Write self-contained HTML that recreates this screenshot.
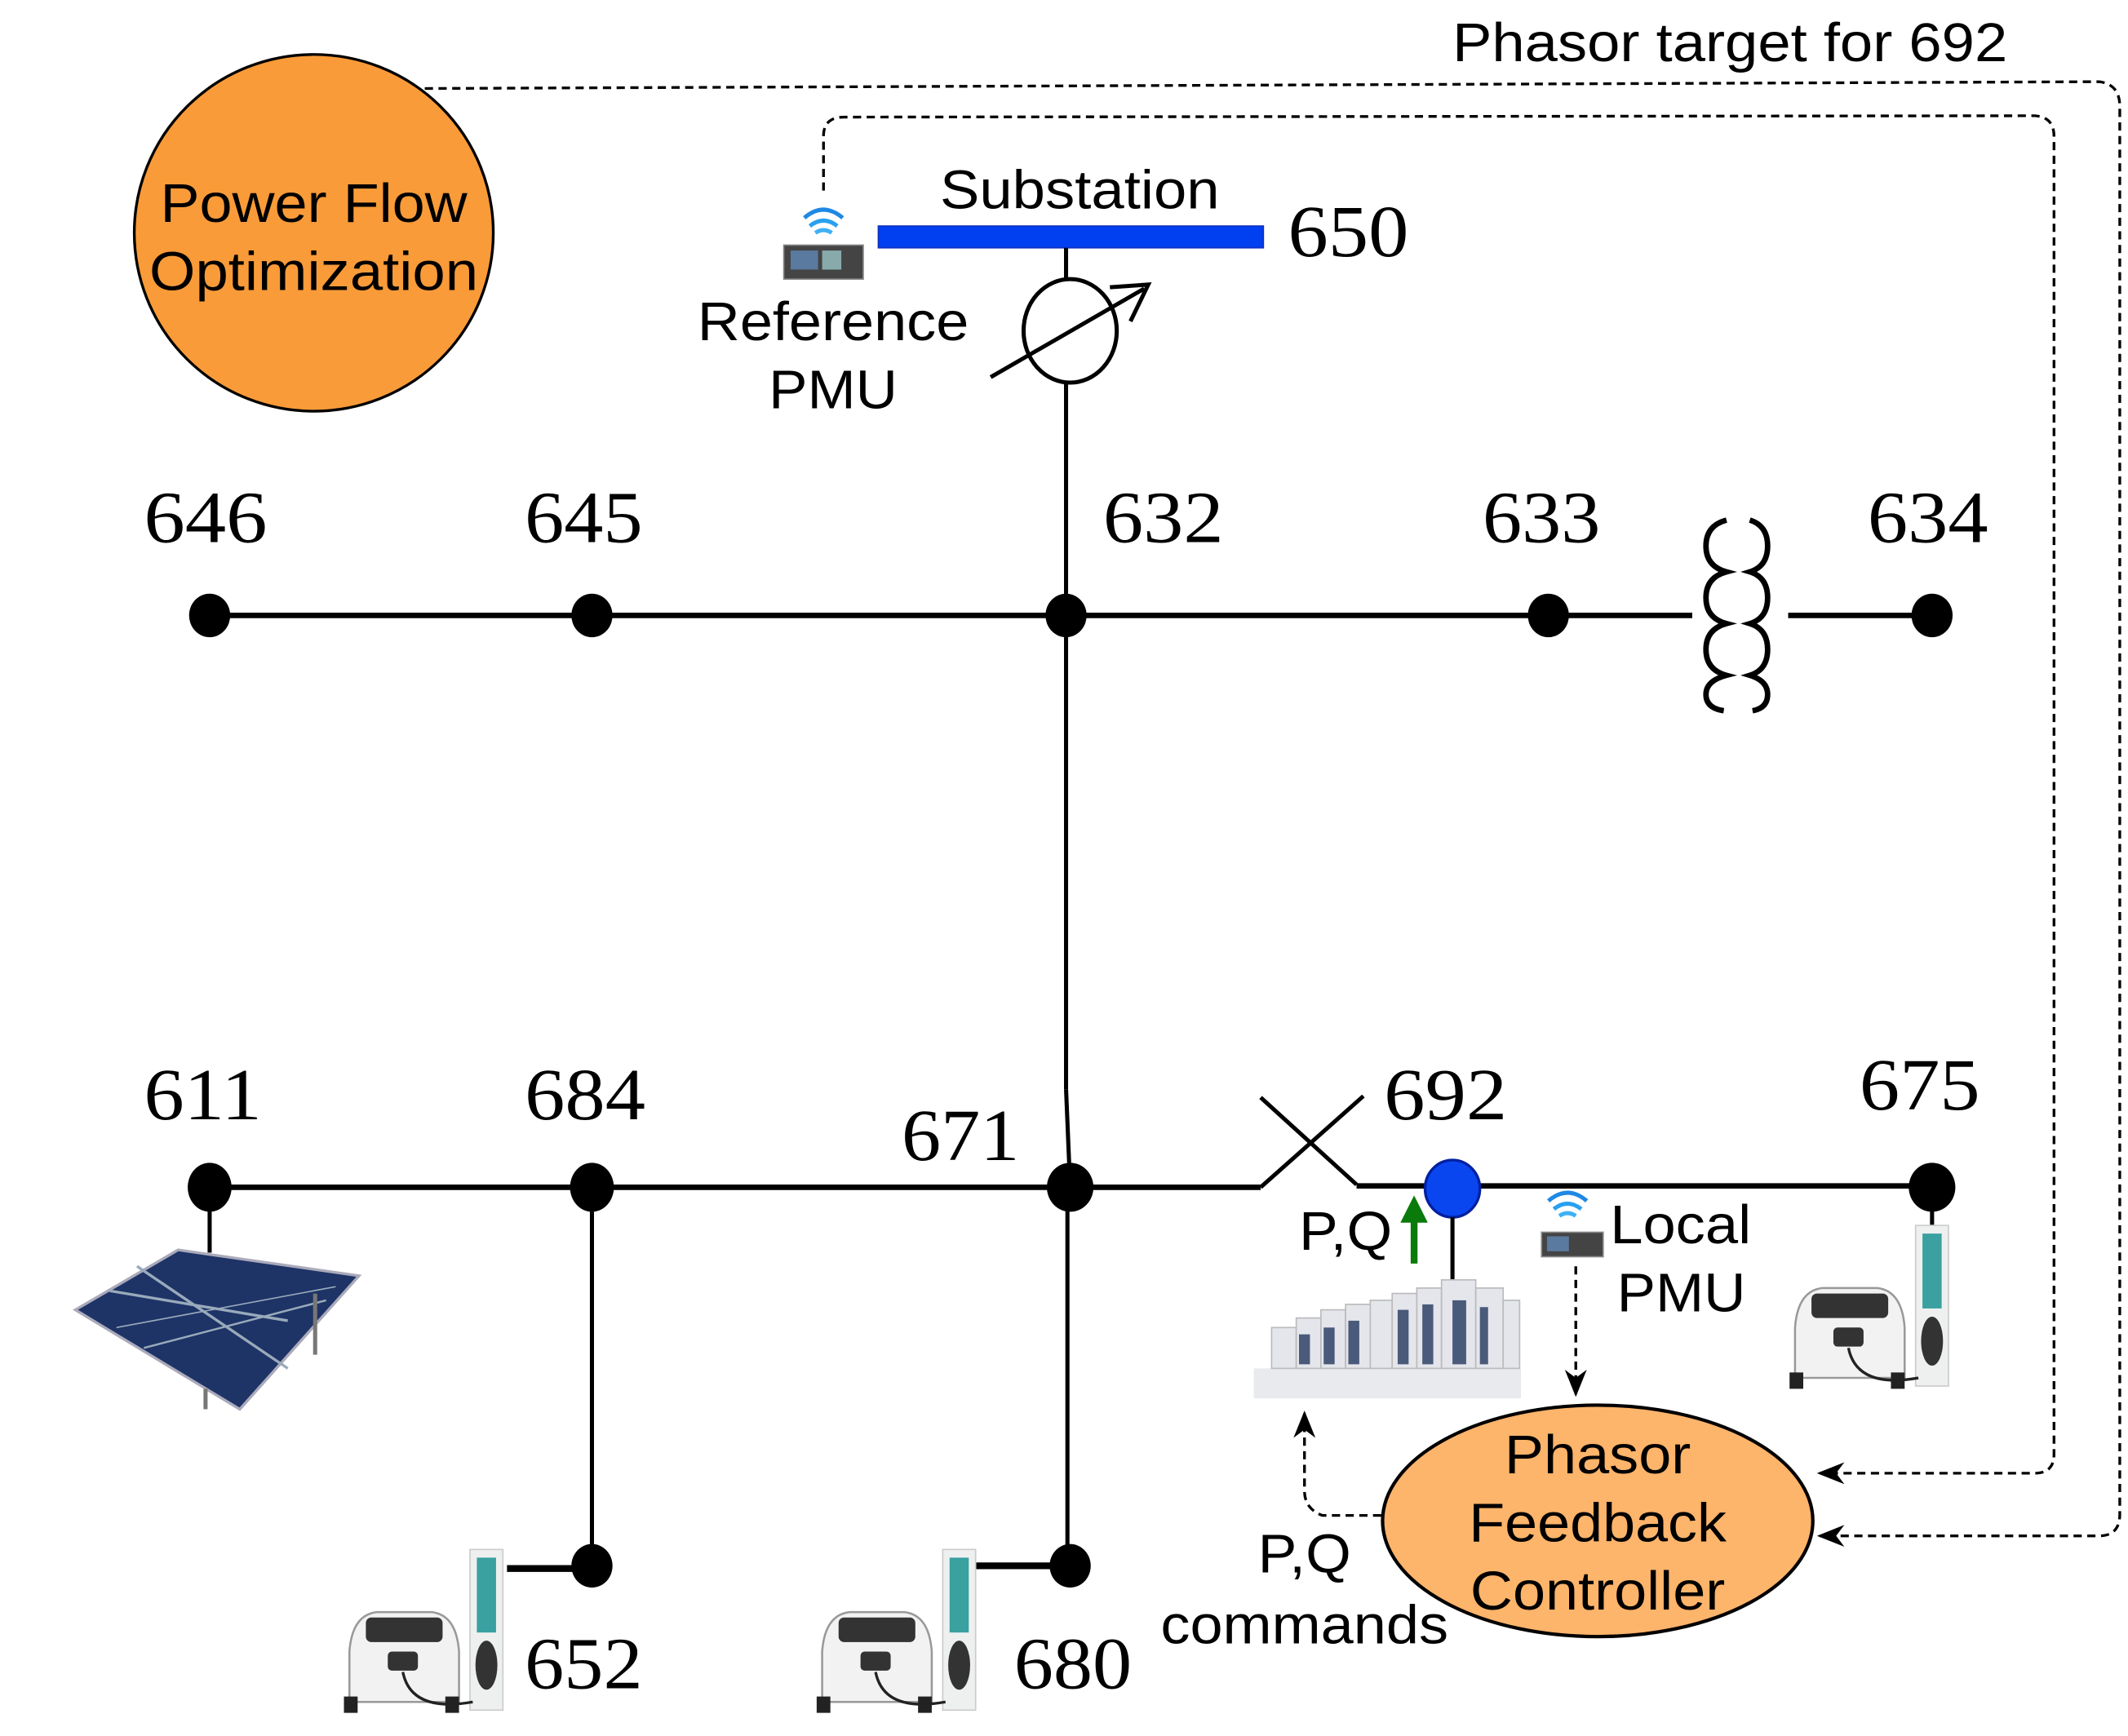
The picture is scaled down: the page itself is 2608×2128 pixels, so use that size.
<!DOCTYPE html>
<html><head><meta charset="utf-8"><style>
html,body{margin:0;padding:0;background:#fff;}
svg{display:block;}
.s{font-family:"Liberation Sans",sans-serif;font-size:40px;fill:#000;}
.n{font-family:"Liberation Serif",serif;font-size:54px;fill:#000;}
</style></head><body>
<svg width="2608" height="2128" viewBox="0 0 1553 1275" preserveAspectRatio="none" xmlns="http://www.w3.org/2000/svg">
<defs>
<marker id="ah2" viewBox="0 0 10 10" refX="9" refY="5" markerWidth="20" markerHeight="20" orient="auto" markerUnits="userSpaceOnUse">
<path d="M0,1 L10,5 L0,9 L3,5 Z" fill="#000"/></marker>
</defs>
<rect width="1553" height="1275" fill="#fff"/>

<path d="M310,65 L1532,60 Q1547,62 1547,78 L1547,1112 Q1547,1128 1532,1128 L1328,1128" fill="none" stroke="#000" stroke-width="2" stroke-dasharray="6,4" marker-end="url(#ah2)"/>
<path d="M601,140 L601,100 Q601,86 616,86 L1485,85 Q1499,86 1499,100 L1499,1068 Q1499,1082 1485,1082 L1328,1082" fill="none" stroke="#000" stroke-width="2" stroke-dasharray="6,4" marker-end="url(#ah2)"/>
<path d="M1008,1113 L965,1113 Q952,1108 952,1095 L952,1038" fill="none" stroke="#000" stroke-width="2" stroke-dasharray="6,4" marker-end="url(#ah2)"/>
<path d="M1150,930 L1150,1024" fill="none" stroke="#000" stroke-width="2" stroke-dasharray="6,4" marker-end="url(#ah2)"/>

<ellipse cx="229" cy="171" rx="131" ry="131" fill="#F99B38" stroke="#000" stroke-width="2"/>
<text class="s" x="229" y="163" text-anchor="middle" textLength="224" lengthAdjust="spacingAndGlyphs">Power Flow</text>
<text class="s" x="229" y="213" text-anchor="middle" textLength="240" lengthAdjust="spacingAndGlyphs">Optimization</text>

<text class="s" x="1060" y="45" textLength="405" lengthAdjust="spacingAndGlyphs">Phasor target for 692</text>

<rect x="641" y="166" width="281" height="16" fill="#0040F0" stroke="#1030C0" stroke-width="1"/>
<text class="s" x="788" y="153" text-anchor="middle" textLength="204" lengthAdjust="spacingAndGlyphs">Substation</text>
<text class="n" x="940" y="188" textLength="88" lengthAdjust="spacingAndGlyphs">650</text>
<line x1="778" y1="182" x2="778" y2="206" stroke="#000" stroke-width="3"/>
<ellipse cx="781" cy="243" rx="34" ry="38" fill="none" stroke="#000" stroke-width="3"/>
<line x1="723" y1="277" x2="835" y2="212" stroke="#000" stroke-width="3"/>
<path d="M810,211 L838,209 L825,236" fill="none" stroke="#000" stroke-width="3"/>
<line x1="778" y1="281" x2="778" y2="800" stroke="#000" stroke-width="3"/>
<line x1="778" y1="800" x2="781" y2="872" stroke="#000" stroke-width="3"/>
<text class="s" x="608" y="250" text-anchor="middle" textLength="198" lengthAdjust="spacingAndGlyphs">Reference</text>
<text class="s" x="608" y="300" text-anchor="middle" textLength="94" lengthAdjust="spacingAndGlyphs">PMU</text>

<g>
<path d="M587,160 Q601,148 615,160" fill="none" stroke="#1E88E5" stroke-width="3"/>
<path d="M591,166 Q601,158 611,166" fill="none" stroke="#29A0F0" stroke-width="3"/>
<path d="M595,171 Q601,167 607,171" fill="none" stroke="#40B0F5" stroke-width="3"/>
<rect x="572" y="180" width="58" height="25" fill="#444" stroke="#888"/>
<rect x="577" y="184" width="20" height="14" fill="#5a7aa0"/>
<rect x="600" y="184" width="14" height="14" fill="#8aa"/>
</g>

<line x1="153" y1="452" x2="1235" y2="452" stroke="#000" stroke-width="4"/>
<line x1="1305" y1="452" x2="1410" y2="452" stroke="#000" stroke-width="4"/>
<g fill="#000">
<ellipse cx="153" cy="452" rx="15" ry="16"/>
<ellipse cx="432" cy="452" rx="15" ry="16"/>
<ellipse cx="778" cy="452" rx="15" ry="16"/>
<ellipse cx="1130" cy="452" rx="15" ry="16"/>
<ellipse cx="1410" cy="452" rx="15" ry="16"/>
</g>
<path d="M1260,382 Q1245,386 1245,401 Q1245,416 1260,420 Q1245,424 1245,439 Q1245,454 1260,458 Q1245,462 1245,477 Q1245,492 1260,496 Q1245,500 1245,510 Q1245,520 1258,522" fill="none" stroke="#000" stroke-width="4"/>
<path d="M1277,382 Q1290,386 1290,401 Q1290,416 1277,420 Q1290,424 1290,439 Q1290,454 1277,458 Q1290,462 1290,477 Q1290,492 1277,496 Q1290,500 1290,510 Q1290,520 1279,522" fill="none" stroke="#000" stroke-width="4"/>
<text class="n" x="105" y="398" textLength="90" lengthAdjust="spacingAndGlyphs">646</text>
<text class="n" x="383" y="398" textLength="86" lengthAdjust="spacingAndGlyphs">645</text>
<text class="n" x="805" y="398" textLength="88" lengthAdjust="spacingAndGlyphs">632</text>
<text class="n" x="1082" y="398" textLength="86" lengthAdjust="spacingAndGlyphs">633</text>
<text class="n" x="1363" y="398" textLength="88" lengthAdjust="spacingAndGlyphs">634</text>

<line x1="153" y1="872" x2="920" y2="872" stroke="#000" stroke-width="4"/>
<line x1="920" y1="872" x2="995" y2="805" stroke="#000" stroke-width="3"/>
<line x1="920" y1="806" x2="990" y2="870" stroke="#000" stroke-width="3"/>
<line x1="990" y1="871" x2="1410" y2="871" stroke="#000" stroke-width="4"/>
<line x1="153" y1="872" x2="153" y2="920" stroke="#000" stroke-width="3"/>
<line x1="432" y1="872" x2="432" y2="1150" stroke="#000" stroke-width="3"/>
<line x1="779" y1="872" x2="779" y2="1150" stroke="#000" stroke-width="3"/>
<line x1="370" y1="1152" x2="432" y2="1152" stroke="#000" stroke-width="5"/>
<line x1="712" y1="1150" x2="781" y2="1150" stroke="#000" stroke-width="5"/>
<line x1="1410" y1="872" x2="1410" y2="900" stroke="#000" stroke-width="3"/>
<g fill="#000">
<ellipse cx="153" cy="872" rx="16" ry="18"/>
<ellipse cx="432" cy="872" rx="16" ry="18"/>
<ellipse cx="781" cy="872" rx="17" ry="18"/>
<ellipse cx="1410" cy="872" rx="17" ry="18"/>
<ellipse cx="432" cy="1150" rx="15" ry="16"/>
<ellipse cx="781" cy="1150" rx="15" ry="16"/>
</g>
<ellipse cx="1060" cy="873" rx="20" ry="21" fill="#0A46F0" stroke="#0020A0" stroke-width="2"/>
<line x1="1060" y1="894" x2="1060" y2="942" stroke="#000" stroke-width="3"/>
<text class="n" x="105" y="822" textLength="86" lengthAdjust="spacingAndGlyphs">611</text>
<text class="n" x="383" y="822" textLength="88" lengthAdjust="spacingAndGlyphs">684</text>
<text class="n" x="658" y="852" textLength="86" lengthAdjust="spacingAndGlyphs">671</text>
<text class="n" x="1010" y="822" textLength="90" lengthAdjust="spacingAndGlyphs">692</text>
<text class="n" x="1357" y="815" textLength="88" lengthAdjust="spacingAndGlyphs">675</text>
<text class="n" x="383" y="1240" textLength="86" lengthAdjust="spacingAndGlyphs">652</text>
<text class="n" x="740" y="1240" textLength="86" lengthAdjust="spacingAndGlyphs">680</text>

<g>
<polygon points="55,962 130,918 262,937 175,1035" fill="#1E3366" stroke="#aab" stroke-width="2"/>
<line x1="80" y1="948" x2="210" y2="970" stroke="#9ab" stroke-width="2"/>
<line x1="105" y1="990" x2="238" y2="955" stroke="#9ab" stroke-width="1.5"/>
<line x1="85" y1="975" x2="245" y2="945" stroke="#9ab" stroke-width="1"/>
<line x1="100" y1="930" x2="210" y2="1005" stroke="#9ab" stroke-width="2"/>
<line x1="230" y1="950" x2="230" y2="995" stroke="#777" stroke-width="3"/>
<line x1="150" y1="1020" x2="150" y2="1035" stroke="#777" stroke-width="3"/>
</g>

<g>
<rect x="915" y="1005" width="195" height="22" fill="#e8eaee"/>
<rect x="928" y="975" width="18" height="30" fill="#e4e6ec" stroke="#bbb"/>
<rect x="946" y="968" width="18" height="37" fill="#e4e6ec" stroke="#bbb"/>
<rect x="964" y="962" width="18" height="43" fill="#e4e6ec" stroke="#bbb"/>
<rect x="982" y="958" width="18" height="47" fill="#e4e6ec" stroke="#bbb"/>
<rect x="1000" y="955" width="16" height="50" fill="#e4e6ec" stroke="#bbb"/>
<rect x="1016" y="950" width="18" height="55" fill="#e4e6ec" stroke="#bbb"/>
<rect x="1034" y="946" width="18" height="59" fill="#e4e6ec" stroke="#bbb"/>
<rect x="1052" y="940" width="25" height="65" fill="#e4e6ec" stroke="#bbb"/>
<rect x="1077" y="946" width="20" height="59" fill="#e4e6ec" stroke="#bbb"/>
<rect x="1097" y="955" width="12" height="50" fill="#e4e6ec" stroke="#bbb"/>
<g fill="#4a5a7a">
<rect x="948" y="980" width="8" height="22"/><rect x="966" y="975" width="8" height="27"/><rect x="984" y="970" width="8" height="32"/><rect x="1020" y="962" width="8" height="40"/><rect x="1038" y="958" width="8" height="44"/><rect x="1060" y="955" width="10" height="47"/><rect x="1080" y="960" width="6" height="42"/>
</g>
</g>
<text class="s" x="948" y="918" textLength="68" lengthAdjust="spacingAndGlyphs">P,Q</text>
<line x1="1032" y1="928" x2="1032" y2="895" stroke="#0A7A0A" stroke-width="5"/>
<polygon points="1022,898 1032,878 1042,898" fill="#0A7A0A"/>

<g>
<path d="M1130,882 Q1144,870 1158,882" fill="none" stroke="#1E88E5" stroke-width="3"/>
<path d="M1134,888 Q1144,880 1154,888" fill="none" stroke="#29A0F0" stroke-width="3"/>
<path d="M1138,893 Q1144,889 1150,893" fill="none" stroke="#40B0F5" stroke-width="3"/>
<rect x="1125" y="905" width="45" height="18" fill="#444" stroke="#888"/>
<rect x="1129" y="908" width="16" height="11" fill="#5a7aa0"/>
</g>
<text class="s" x="1175" y="913" textLength="103" lengthAdjust="spacingAndGlyphs">Local</text>
<text class="s" x="1180" y="963" textLength="94" lengthAdjust="spacingAndGlyphs">PMU</text>

<g id="ev">
<rect x="1398" y="900" width="24" height="118" fill="#eef0f0" stroke="#ccc"/>
<rect x="1403" y="906" width="14" height="55" fill="#3AA0A0"/>
<ellipse cx="1410" cy="985" rx="8" ry="18" fill="#333"/>
<path d="M1310,975 Q1312,948 1330,946 L1370,946 Q1388,948 1390,975 L1390,1012 L1310,1012 Z" fill="#f2f2f2" stroke="#999" stroke-width="1.5"/>
<rect x="1322" y="950" width="56" height="18" fill="#333" rx="4"/>
<rect x="1338" y="975" width="22" height="14" fill="#333" rx="3"/>
<rect x="1306" y="1008" width="10" height="12" fill="#222"/>
<rect x="1380" y="1008" width="10" height="12" fill="#222"/>
<path d="M1349,990 Q1355,1020 1400,1012" fill="none" stroke="#222" stroke-width="2"/>
</g>
<use href="#ev" transform="translate(-1055,238)"/>
<use href="#ev" transform="translate(-710,238)"/>

<ellipse cx="1166" cy="1117" rx="157" ry="85" fill="#FDB46B" stroke="#000" stroke-width="2.5"/>
<text class="s" x="1166" y="1082" text-anchor="middle" textLength="136" lengthAdjust="spacingAndGlyphs">Phasor</text>
<text class="s" x="1166" y="1132" text-anchor="middle" textLength="188" lengthAdjust="spacingAndGlyphs">Feedback</text>
<text class="s" x="1166" y="1182" text-anchor="middle" textLength="186" lengthAdjust="spacingAndGlyphs">Controller</text>
<text class="s" x="952" y="1155" text-anchor="middle" textLength="68" lengthAdjust="spacingAndGlyphs">P,Q</text>
<text class="s" x="952" y="1207" text-anchor="middle" textLength="210" lengthAdjust="spacingAndGlyphs">commands</text>
</svg>
</body></html>
